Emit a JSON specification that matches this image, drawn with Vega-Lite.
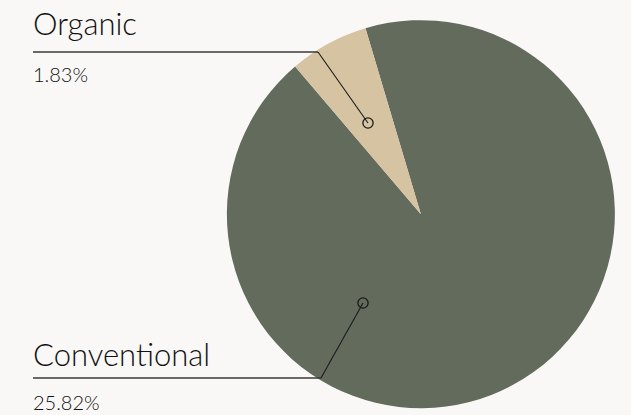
{
  "$schema": "https://vega.github.io/schema/vega-lite/v6.json",
  "width": 631,
  "height": 415,
  "autosize": {"type": "fit", "contains": "padding"},
  "padding": 0,
  "background": "#f9f8f6",
  "config": {"view": {"stroke": null}, "font": "Lato"},
  "datasets": {
    "shares": [
      {"category": "Conventional", "value": 25.82, "order": 1},
      {"category": "Organic", "value": 1.83, "order": 2}
    ],
    "callouts": [
      {"category": "Organic", "pct": "1.83%", "lx0": 33, "lx1": 318, "ly": 52, "dx": 368, "dy": 123, "ty": 35, "py": 82},
      {"category": "Conventional", "pct": "25.82%", "lx0": 33, "lx1": 321, "ly": 378, "dx": 363, "dy": 303, "ty": 366, "py": 410}
    ]
  },
  "layer": [
    {
      "data": {"name": "shares"},
      "mark": {"type": "arc", "outerRadius": 194, "x": {"expr": "width*0.667"}, "y": {"expr": "height*0.516"}},
      "encoding": {
        "theta": {"field": "value", "type": "quantitative", "stack": true, "scale": {"range": [-0.2897, 5.9935]}},
        "order": {"field": "order", "type": "quantitative"},
        "color": {"field": "category", "type": "nominal", "scale": {"domain": ["Conventional", "Organic"], "range": ["#636b5d", "#d5c3a1"]}, "legend": null}
      }
    },
    {
      "data": {"name": "callouts"},
      "mark": {"type": "rule", "color": "#3a3a3a", "strokeWidth": 1.3},
      "encoding": {
        "x": {"field": "lx0", "type": "quantitative", "scale": {"domain": [0, 631], "nice": false, "zero": false}, "axis": null},
        "x2": {"field": "lx1"},
        "y": {"field": "ly", "type": "quantitative", "scale": {"domain": [0, 415], "nice": false, "zero": false, "reverse": true}, "axis": null},
        "y2": {"field": "ly"}
      }
    },
    {
      "data": {"name": "callouts"},
      "mark": {"type": "rule", "color": "#1a1a1a", "strokeWidth": 1.1},
      "encoding": {
        "x": {"field": "lx1", "type": "quantitative"},
        "x2": {"field": "dx"},
        "y": {"field": "ly", "type": "quantitative"},
        "y2": {"field": "dy"}
      }
    },
    {
      "data": {"name": "callouts"},
      "mark": {"type": "point", "shape": "circle", "filled": false, "stroke": "#1a1a1a", "strokeWidth": 1.3, "size": 105, "opacity": 1},
      "encoding": {
        "x": {"field": "dx", "type": "quantitative"},
        "y": {"field": "dy", "type": "quantitative"}
      }
    },
    {
      "data": {"name": "callouts"},
      "mark": {"type": "text", "align": "left", "baseline": "alphabetic", "fontSize": 31, "fontWeight": 300, "color": "#111111"},
      "encoding": {
        "x": {"field": "lx0", "type": "quantitative"},
        "y": {"field": "ty", "type": "quantitative"},
        "text": {"field": "category"}
      }
    },
    {
      "data": {"name": "callouts"},
      "mark": {"type": "text", "align": "left", "baseline": "alphabetic", "fontSize": 20, "fontWeight": 300, "color": "#111111"},
      "encoding": {
        "x": {"field": "lx0", "type": "quantitative"},
        "y": {"field": "py", "type": "quantitative"},
        "text": {"field": "pct"}
      }
    }
  ]
}
